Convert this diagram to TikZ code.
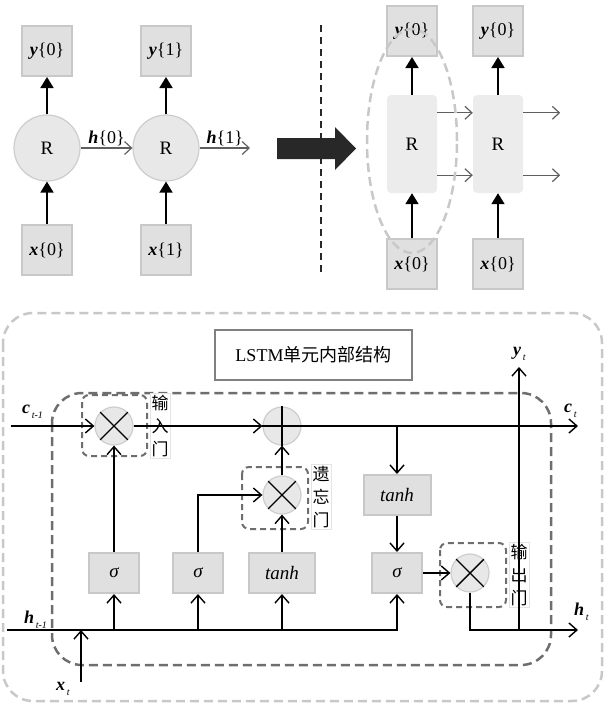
\documentclass[tikz,border=0pt]{standalone}
\usepackage{fontspec}
\setmainfont{Liberation Serif}
\newfontfamily\cjk{Noto Sans CJK SC}
\usetikzlibrary{arrows.meta}
\definecolor{boxfill}{RGB}{224,224,224}
\definecolor{boxline}{RGB}{200,200,200}
\definecolor{circfill}{RGB}{232,232,232}
\definecolor{circline}{RGB}{205,205,205}
\definecolor{rectfill}{RGB}{236,236,236}
\definecolor{arrgray}{RGB}{95,95,95}
\definecolor{outerdash}{RGB}{200,200,200}
\definecolor{innerdash}{RGB}{110,110,110}
\definecolor{titleline}{RGB}{128,128,128}
\definecolor{bigarrow}{RGB}{40,40,40}
\definecolor{labline}{RGB}{228,228,228}
\newcommand{\bi}[1]{\textbf{\textit{#1}}}
\newcommand{\mysub}[1]{\raisebox{-5pt}{\fontsize{10}{10}\selectfont\,\textit{#1}}}
\tikzset{
  ybox/.style={draw=boxline, fill=boxfill, line width=2pt, minimum width=50pt, minimum height=50pt, inner sep=0pt},
  rcirc/.style={circle, draw=circline, fill=circfill, line width=1.2pt, minimum size=66pt, inner sep=0pt, font=\fontsize{19}{20}\selectfont},
  rrect/.style={fill=rectfill, rounded corners=4pt, minimum width=50pt, minimum height=98pt, inner sep=0pt, font=\fontsize{19}{20}\selectfont},
  barr/.style={line width=1.8pt, -{Triangle[length=11pt,width=13pt]}},
  garr/.style={draw=arrgray, line width=1.2pt, -{Straight Barb[length=7pt,width=13pt]}},
  ar/.style={line width=1.4pt, -{Straight Barb[length=8pt,width=14pt]}},
  crossline/.style={line width=1.4pt},
  fbox/.style={draw=boxline, fill=boxfill, line width=2pt, minimum width=50pt, minimum height=40pt, inner sep=0pt, font=\fontsize{19}{20}\selectfont\itshape},
  opc/.style={circle, draw=circline, fill=circfill, line width=1.2pt, minimum size=38pt, inner sep=0pt},
  gatebox/.style={draw=innerdash, line width=2pt, dash pattern=on 6pt off 4pt, rounded corners=7pt},
  outerbox/.style={draw=outerdash, line width=2.5pt, dash pattern=on 9pt off 5pt, rounded corners=30pt},
  innerbox/.style={draw=innerdash, line width=2.5pt, dash pattern=on 9pt off 5pt, rounded corners=30pt},
  ttl/.style={draw=titleline, line width=2.5pt, fill=white, minimum width=197pt, minimum height=50pt, inner sep=0pt},
  glabel/.style={draw=labline, line width=0.6pt, fill=white, inner sep=1.5pt, align=center, font=\cjk\fontsize{17}{23}\selectfont},
  lab/.style={inner sep=0pt, font=\fontsize{18}{20}\selectfont}
}
\begin{document}
\begin{tikzpicture}[x=1pt,y=-1pt,font=\fontsize{18}{20}\selectfont]
\useasboundingbox (0,0) rectangle (605,704);
% ---------- top left: recurrent chain ----------
\node[ybox] (ya) at (47,51) {\bi{y}\{0\}};
\node[ybox] (yb) at (166,51) {\bi{y}\{1\}};
\node[rcirc] (ra) at (47,148) {R};
\node[rcirc] (rb) at (166,148) {R};
\node[ybox] (xa) at (47,250) {\bi{x}\{0\}};
\node[ybox] (xb) at (166,250) {\bi{x}\{1\}};
\coordinate (hend) at (250,148);
\draw[barr] (xa) -- (ra);
\draw[barr] (ra) -- (ya);
\draw[barr] (xb) -- (rb);
\draw[barr] (rb) -- (yb);
\draw[garr] (ra) -- node[above=1pt, lab] {\bi{h}\{0\}} (rb);
\draw[garr] (rb) -- node[above=1pt, lab] {\bi{h}\{1\}} (hend);
% big arrow
\fill[bigarrow] (277,138) -- (335,138) -- (335,127) -- (356,148.5) -- (335,170) -- (335,159) -- (277,159) -- cycle;
% separator
\draw[bigarrow, line width=2pt, dash pattern=on 7pt off 5pt] (321,25) -- (321,274);
% ---------- top right ----------
\node[ybox] (yc) at (412,31) {\bi{y}\{0\}};
\node[ybox] (yd) at (498,31) {\bi{y}\{0\}};
\node[rrect] (rc) at (412,144) {R};
\node[rrect] (rd) at (498,144) {R};
\node[ybox] (xc) at (412,264) {\bi{x}\{0\}};
\node[ybox] (xd) at (498,264) {\bi{x}\{0\}};
\draw[barr] (xc) -- (rc);
\draw[barr] (rc) -- (yc);
\draw[barr] (xd) -- (rd);
\draw[barr] (rd) -- (yd);
\draw[garr] ([yshift=-18pt]rc.north east) -- ([yshift=-18pt]rd.north west);
\draw[garr] ([yshift=18pt]rc.south east) -- ([yshift=18pt]rd.south west);
\draw[garr] ([yshift=-18pt]rd.north east) -- ++(37,0);
\draw[garr] ([yshift=18pt]rd.south east) -- ++(37,0);
\draw[draw=outerdash, line width=2.5pt, dash pattern=on 9pt off 5pt] (412,141) ellipse [x radius=45pt, y radius=112pt];
% ---------- bottom: LSTM cell ----------
\draw[outerbox] (3,313) rectangle (602,701);
\draw[innerbox] (52,393) rectangle (551,665);
\node[ttl] (title) at (313.5,355) {LSTM{\cjk 单元内部结构}};
% gate frames
\draw[gatebox] (82,395) rectangle (147,456);
\draw[gatebox] (242,467) rectangle (308,529);
\draw[gatebox] (440,543) rectangle (506,607);
% operators
\node[opc] (m1) at (114,426) {};
\node[opc] (pl) at (282,426) {};
\node[opc] (m2) at (282,495) {};
\node[opc] (m3) at (470,573) {};
% gate labels
\node[glabel] (g1) at (160,426) {输\\入\\门};
\node[glabel] (g2) at (321,497) {遗\\忘\\门};
\node[glabel] (g3) at (519,575) {输\\出\\门};
% function boxes
\node[fbox] (s1) at (114,573) {σ};
\node[fbox] (s2) at (198,573) {σ};
\node[fbox, minimum width=66pt] (t1) at (282,573) {tanh};
\node[fbox] (s3) at (397,573) {σ};
\node[fbox, minimum width=67pt] (t2) at (397,495) {tanh};
% coordinates
\coordinate (cin) at (11,426);
\coordinate (cout) at (578,426);
\coordinate (cb) at (397,426);
\coordinate (hin) at (7,630);
\coordinate (hout) at (578,630);
\coordinate (yfoot) at (519,630);
\coordinate (ytop) at (519,367);
\coordinate (xfoot) at (81,682);
\coordinate (xtop) at (81,630);
% connectors
\draw[ar] (cin) -- (m1);
\draw[ar] (m1) -- (pl);
\draw[ar] (pl) -- (cout);
\draw[ar] (cb) -- (t2);
\draw[ar] (t2) -- (s3);
\draw[ar] (s3) -- (m3);
\draw[ar] (m3) |- (hout);
\draw[ar] (yfoot) -- (ytop);
\draw[ar] (hin) -| (s3);
\draw[ar] (s1 |- hin) -- (s1);
\draw[ar] (s2 |- hin) -- (s2);
\draw[ar] (t1 |- hin) -- (t1);
\draw[ar] (s1) -- (m1);
\draw[ar] (s2) |- (m2);
\draw[ar] (t1) -- (m2);
\draw[ar] (m2) -- (pl);
\draw[ar] (xfoot) -- (xtop);
% operator symbols
\foreach \n in {m1,m2,m3}{
  \draw[crossline] (\n.north west) -- (\n.south east);
  \draw[crossline] (\n.north east) -- (\n.south west);
}
\draw[crossline] (pl.north) -- (pl.south);
\draw[crossline] (pl.west) -- (pl.east);
% labels
\node[lab, anchor=base west] (lc0) at (22,413) {\bi{c}\mysub{t-1}};
\node[lab, anchor=base west] (lc1) at (564,412) {\bi{c}\mysub{t}};
\node[lab, anchor=base west] (ly) at (513,355) {\bi{y}\mysub{t}};
\node[lab, anchor=base west] (lh1) at (574,615) {\bi{h}\mysub{t}};
\node[lab, anchor=base west] (lh0) at (24,623) {\bi{h}\mysub{t-1}};
\node[lab, anchor=base west] (lx) at (56,690) {\bi{x}\mysub{t}};
\end{tikzpicture}
\end{document}
